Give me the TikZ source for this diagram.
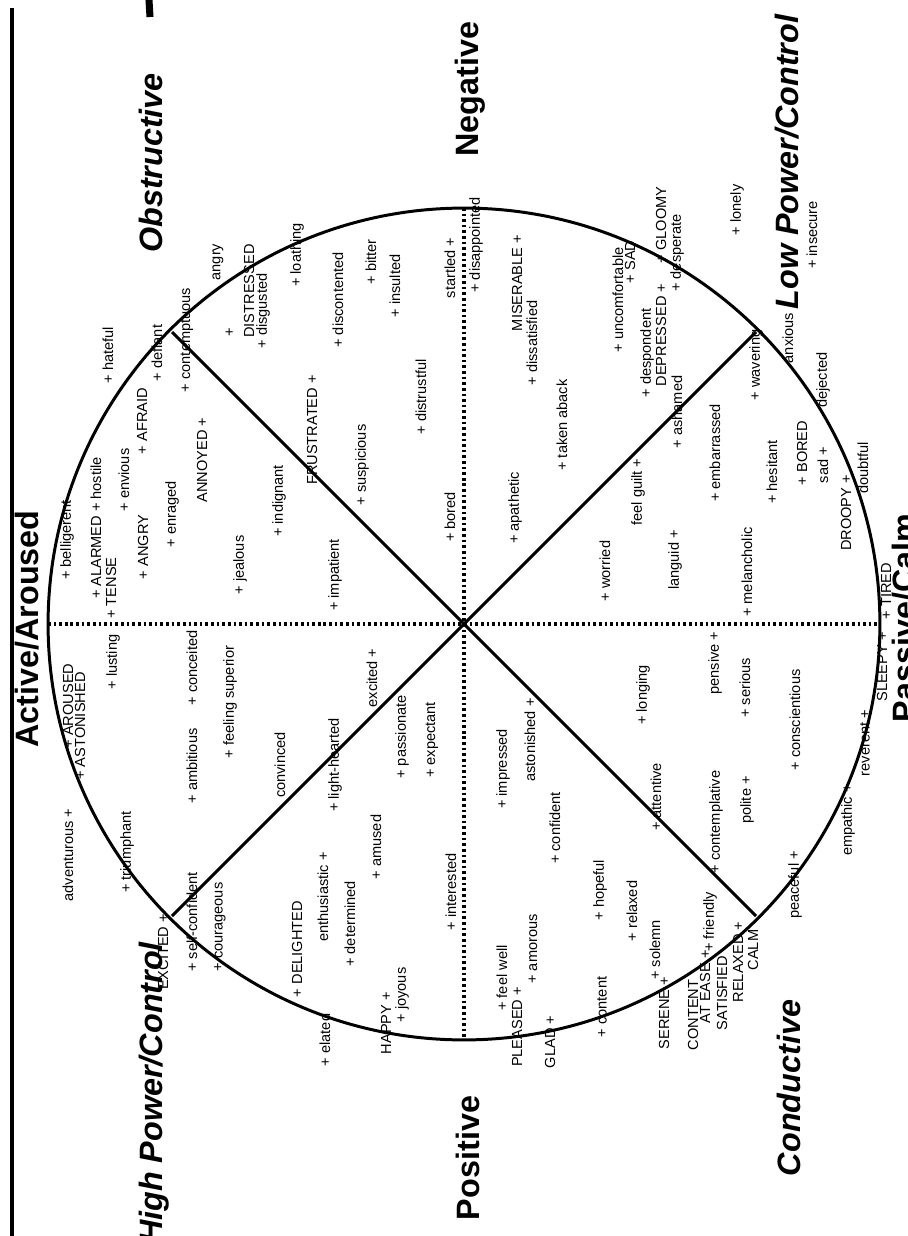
\documentclass[tikz,border=0pt]{standalone}
\usepackage{fontspec}
\setmainfont{Liberation Sans}
\usepackage{tikz}

\begin{document}
\begin{tikzpicture}[x=0.02cm, y=-0.02cm,
  word/.style={rotate=90, inner sep=0pt, font=\fontsize{8.3}{9}\selectfont},
  axis/.style={rotate=90, inner sep=0pt, anchor=base, font=\bfseries\fontsize{18.4}{20}\selectfont},
  axisit/.style={axis, font=\bfseries\itshape\fontsize{18.4}{20}\selectfont},
  rim/.style={line width=1.7pt},
  grid/.style={line width=1.9pt, dash pattern=on 1.5pt off 1.7pt}]

\useasboundingbox (0,0) rectangle (908,1236);

\coordinate (C) at (464,624);
\coordinate (top) at (464,208);
\coordinate (bot) at (464,1040);
\coordinate (lft) at (48,624);
\coordinate (rgt) at (880,624);
\coordinate (ul) at (172,332);
\coordinate (lr) at (756,916);
\coordinate (ur) at (756,332);
\coordinate (ll) at (172,916);
\coordinate (e1) at (12,8);
\coordinate (e2) at (12,1236);
\coordinate (m1) at (149,0);
\coordinate (m2) at (150,17);

\draw[line width=1.8pt] (e1) -- (e2);
\draw[line width=4pt] (m1) -- (m2);
\draw[rim] (C) circle[radius=8.32cm];
\draw[grid] (lft) -- (rgt);
\draw[grid] (top) -- (bot);
\draw[rim] (ul) -- (lr);
\draw[rim] (ll) -- (ur);

\node[axis] (active) at (38,629) {Active/Aroused};
\node[axis] (passive) at (915,618) {Passive/Calm};
\node[axis] (negative) at (478,89) {Negative};
\node[axis] (positive) at (479,1158) {Positive};
\node[axisit] (obstructive) at (162,163) {Obstructive};
\node[axisit] (lowpower) at (798,162) {Low Power/Control};
\node[axisit] (highpower) at (162,1093) {High Power/Control};
\node[axisit] (conductive) at (800,1088) {Conductive};

\node[word] (belligerent) at (67,540) {+ belligerent};
\node[word] (alarmed) at (96,528) {+ ALARMED + hostile};
\node[word] (hateful) at (108,355) {+ hateful};
\node[word] (envious) at (124,480) {+ envious};
\node[word] (afraid) at (142,421) {+ AFRAID};
\node[word] (defiant) at (157,353) {+ defiant};
\node[word] (contemptuous) at (187,340) {+ contemptuous};
\node[word] (angry) at (218,262) {angry};
\node[word] (plus) at (230,332) {+};
\node[word] (distressed) at (249,291) {DISTRESSED};
\node[word] (disgusted) at (263,311) {+ disgusted};
\node[word] (loathing) at (297,255) {+ loathing};
\node[word] (discontented) at (338,300) {+ discontented};
\node[word] (bitter) at (371,262) {+ bitter};
\node[word] (insulted) at (395,286) {+ insulted};
\node[word] (tense) at (111,588) {+ TENSE};
\node[word] (angrycap) at (143,547) {+ ANGRY};
\node[word] (enraged) at (172,514) {+ enraged};
\node[word] (annoyed) at (202,460) {ANNOYED +};
\node[word] (jealous) at (240,565) {+ jealous};
\node[word] (indignant) at (279,501) {+ indignant};
\node[word] (frustrated) at (312,430) {FRUSTRATED +};
\node[word] (suspicious) at (362,465) {+ suspicious};
\node[word] (distrustful) at (421,397) {+ distrustful};
\node[word] (impatient) at (335,575) {+ impatient};
\node[word] (bored) at (450,517) {+ bored};
\node[word] (startled) at (450,268) {startled +};
\node[word] (disappointed) at (476,245) {+ disappointed};

\node[word] (miserable) at (517,283) {MISERABLE +};
\node[word] (dissatisfied) at (532,343) {+ dissatisfied};
\node[word] (takenaback) at (562,425) {+ taken aback};
\node[word] (apathetic) at (515,508) {+ apathetic};
\node[word] (uncomfortable) at (618,300) {+ uncomfortable};
\node[word] (sadcap) at (630,262) {+ SAD};
\node[word] (gloomy) at (661,225) {+ GLOOMY};
\node[word] (despondent) at (647,353) {+ despondent};
\node[word] (depressed) at (661,335) {DEPRESSED +};
\node[word] (desperate) at (677,253) {+ desperate};
\node[word] (lonely) at (737,210) {+ lonely};
\node[word] (insecure) at (812,235) {+ insecure};
\node[word] (feelguilt) at (638,492) {feel guilt +};
\node[word] (ashamed) at (677,412) {+ ashamed};
\node[word] (embarrassed) at (715,453) {+ embarrassed};
\node[word] (wavering) at (756,365) {+ wavering};
\node[word] (anxious) at (788,338) {anxious};
\node[word] (dejected) at (823,380) {dejected};
\node[word] (hesitant) at (772,472) {+ hesitant};
\node[word] (boredcap) at (802,453) {+ BORED};
\node[word] (sad) at (823,465) {sad +};
\node[word] (doubtful) at (863,468) {doubtful};
\node[word] (droopy) at (846,513) {DROOPY +};
\node[word] (worried) at (605,571) {+ worried};
\node[word] (languid) at (675,560) {languid +};
\node[word] (melancholic) at (747,572) {+ melancholic};

\node[word] (longing) at (643,695) {+ longing};
\node[word] (pensive) at (715,663) {pensive +};
\node[word] (serious) at (745,688) {+ serious};
\node[word] (conscientious) at (795,720) {+ conscientious};
\node[word] (tired) at (886,591) {+ TIRED};
\node[word] (sleepy) at (882,667) {SLEEPY +};
\node[word] (reverent) at (865,743) {reverent +};
\node[word] (empathic) at (848,820) {empathic +};
\node[word] (polite) at (747,800) {polite +};
\node[word] (contemplative) at (716,822) {+ contemplative};
\node[word] (attentive) at (656,797) {+ attentive};
\node[word] (astonished) at (530,740) {astonished +};
\node[word] (impressed) at (503,769) {+ impressed};
\node[word] (peaceful) at (795,885) {peaceful +};
\node[word] (friendly) at (710,922) {+ friendly};
\node[word] (calm) at (753,950) {CALM};
\node[word] (relaxedcap) at (738,962) {RELAXED +};
\node[word] (satisfied) at (722,993) {SATISFIED};
\node[word] (atease) at (705,987) {AT EASE +};
\node[word] (contentcap) at (693,1015) {CONTENT};
\node[word] (serene) at (664,1013) {SERENE +};
\node[word] (solemn) at (655,950) {+ solemn};
\node[word] (relaxed) at (632,911) {+ relaxed};
\node[word] (hopeful) at (600,890) {+ hopeful};
\node[word] (content) at (602,1007) {+ content};
\node[word] (confident) at (555,828) {+ confident};
\node[word] (glad) at (550,1042) {GLAD +};
\node[word] (pleased) at (517,1027) {PLEASED +};
\node[word] (amorous) at (533,949) {+ amorous};
\node[word] (feelwell) at (502,978) {+ feel well};
\node[word] (interested) at (451,892) {+ interested};

\node[word] (adventurous) at (68,855) {adventurous +};
\node[word] (triumphant) at (127,852) {+ triumphant};
\node[word] (aroused) at (68,706) {+ AROUSED};
\node[word] (astonishedcap) at (80,726) {+ ASTONISHED};
\node[word] (lusting) at (113,662) {+ lusting};
\node[word] (conceited) at (192,668) {+ conceited};
\node[word] (ambitious) at (192,766) {+ ambitious};
\node[word] (feelingsuperior) at (230,702) {+ feeling superior};
\node[word] (convinced) at (280,765) {convinced};
\node[word] (lighthearted) at (335,765) {+ light-hearted};
\node[word] (excited) at (372,678) {excited +};
\node[word] (passionate) at (402,737) {+ passionate};
\node[word] (expectant) at (432,740) {+ expectant};
\node[word] (excitedcap) at (163,952) {EXCITED +};
\node[word] (selfconfident) at (192,922) {+ self-confident};
\node[word] (courageous) at (220,927) {+ courageous};
\node[word] (delighted) at (297,949) {+ DELIGHTED};
\node[word] (enthusiastic) at (323,897) {enthusiastic +};
\node[word] (determined) at (350,924) {+ determined};
\node[word] (amused) at (376,847) {+ amused};
\node[word] (elated) at (325,1040) {+ elated};
\node[word] (happy) at (386,1023) {HAPPY +};
\node[word] (joyous) at (402,995) {+ joyous};
\end{tikzpicture}
\end{document}
